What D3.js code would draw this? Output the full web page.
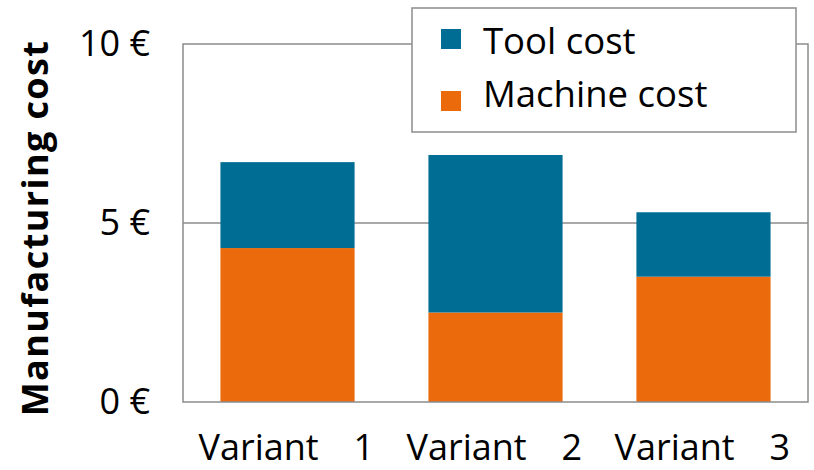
<!DOCTYPE html>
<html>
<head>
<meta charset="utf-8">
<script src="https://cdn.jsdelivr.net/npm/d3@7"></script>
<style>
  html, body { margin: 0; padding: 0; background: #fff; }
  svg text { font-family: "Open Sans", "Noto Sans", sans-serif; fill: #000; }
</style>
</head>
<body>
<svg id="chart" width="814" height="470"></svg>
<script>
// Manufacturing cost per variant, stacked: machine cost at the bottom, tool cost on top
const variants = ["Variant", "Variant", "Variant"];
const variantNumbers = ["1", "2", "3"];
const machineCost = [4.3, 2.5, 3.5];
const toolCost = [2.4, 4.4, 1.8];
const seriesNames = ["Tool cost", "Machine cost"];
const seriesColors = ["#006e94", "#eb6a0c"];
const yTicks = [0, 5, 10];
const yTickLabels = ["0 €", "5 €", "10 €"];

const svg = d3.select("#chart");
const margin = { left: 183, right: 6, top: 44, bottom: 68 };
const width = 814, height = 470;
const x0 = margin.left, x1 = width - margin.right;
const yTop = margin.top, yBottom = height - margin.bottom;

const keys = variantNumbers.map((n, i) => i);
const x = d3.scaleBand().domain(keys).range([x0, x1]).paddingInner(0.355).paddingOuter(0.18);
const y = d3.scaleLinear().domain([0, 10]).range([yBottom, yTop]);

// horizontal gridline at 5
svg.append("g").selectAll("line").data(yTicks.filter(t => t > 0 && t < 10)).join("line")
  .attr("x1", x0).attr("x2", x1)
  .attr("y1", d => y(d)).attr("y2", d => y(d))
  .attr("stroke", "#8c8c8c").attr("stroke-width", 1.5);

// stacked bars
const rows = keys.map(i => ({ i, machine: machineCost[i], tool: toolCost[i] }));
const stack = d3.stack().keys(["machine", "tool"])(rows);
const colorOf = { machine: seriesColors[1], tool: seriesColors[0] };
svg.append("g").selectAll("g").data(stack).join("g")
  .attr("fill", s => colorOf[s.key])
  .selectAll("rect").data(s => s).join("rect")
  .attr("x", d => x(d.data.i))
  .attr("width", x.bandwidth())
  .attr("y", d => y(d[1]))
  .attr("height", d => y(d[0]) - y(d[1]));

// plot frame
svg.append("rect")
  .attr("x", x0).attr("y", yTop)
  .attr("width", x1 - x0).attr("height", yBottom - yTop)
  .attr("fill", "none").attr("stroke", "#8c8c8c").attr("stroke-width", 1.5);

// y axis tick labels
const yAxis = d3.axisLeft(y).tickValues(yTicks)
  .tickFormat((d, i) => yTickLabels[i]).tickSize(0).tickPadding(33);
const gy = svg.append("g").attr("transform", `translate(${x0},0)`).call(yAxis);
gy.select(".domain").remove();
gy.selectAll("text").attr("font-size", 36).attr("fill", "#000")
  .style("font-family", '"Open Sans", "Noto Sans", sans-serif');

// x axis category labels: word and number set apart
const xl = svg.append("g").selectAll("g").data(keys).join("g")
  .attr("transform", d => `translate(${x(d) + x.bandwidth() / 2},460)`);
xl.append("text").attr("x", -89).attr("font-size", 36).text(d => variants[d]);
xl.append("text").attr("x", 66).attr("font-size", 36).text(d => variantNumbers[d]);

// y axis title
svg.append("text")
  .attr("transform", "translate(48,228) rotate(-90)")
  .attr("text-anchor", "middle")
  .attr("font-size", 36).attr("font-weight", "bold")
  .attr("letter-spacing", 1.4)
  .text("Manufacturing cost");

// legend
const lg = svg.append("g");
lg.append("rect").attr("x", 412).attr("y", 8).attr("width", 384).attr("height", 124)
  .attr("fill", "#fff").attr("stroke", "#8c8c8c").attr("stroke-width", 1.5);
const swatchY = [29, 91];
const textY = [54, 107];
const items = lg.selectAll("g.item").data(seriesNames).join("g").attr("class", "item");
items.append("rect").attr("x", 441).attr("y", (d, i) => swatchY[i])
  .attr("width", 20).attr("height", 20).attr("fill", (d, i) => seriesColors[i]);
items.append("text").attr("x", 483).attr("y", (d, i) => textY[i])
  .attr("font-size", 36.5).text(d => d);
</script>
</body>
</html>
